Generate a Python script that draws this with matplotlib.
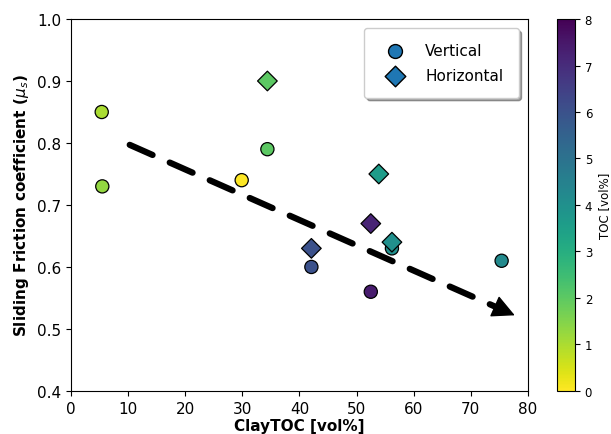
import matplotlib
matplotlib.use("Agg")
import matplotlib.pyplot as plt
import numpy as np

# Vertical samples
v_clay = [5.4, 5.5, 34.4, 29.9, 56.2, 42.1, 52.5, 75.4]
v_mu = [0.85, 0.73, 0.79, 0.74, 0.63, 0.60, 0.56, 0.61]
v_toc = [1.0, 1.3, 2.0, 0.0, 4.0, 6.0, 7.4, 4.2]

# Horizontal samples
h_clay = [34.4, 53.9, 52.5, 56.2, 42.1]
h_mu = [0.90, 0.75, 0.67, 0.64, 0.63]
h_toc = [2.0, 3.6, 7.2, 4.0, 6.0]

# Trend arrow
arrow_start = (10.3, 0.797)
arrow_end = (77.7, 0.522)

fig = plt.figure(figsize=(6.11, 4.35), dpi=100)
ax = fig.add_axes([0.116, 0.099, 0.748, 0.855])
cax = fig.add_axes([0.9116, 0.099, 0.0295, 0.855])

cmap = "viridis_r"
sc = ax.scatter(v_clay, v_mu, c=v_toc, cmap=cmap, vmin=0, vmax=8, s=90,
                marker="o", edgecolors="black", linewidths=0.9, zorder=3)
ax.scatter(h_clay, h_mu, c=h_toc, cmap=cmap, vmin=0, vmax=8, s=100,
           marker="D", edgecolors="black", linewidths=0.9, zorder=3)

# dashed shaft
t = 0.965
mid = (arrow_start[0] + t * (arrow_end[0] - arrow_start[0]),
       arrow_start[1] + t * (arrow_end[1] - arrow_start[1]))
ax.annotate("", xy=mid, xytext=arrow_start,
            arrowprops=dict(arrowstyle="-", linestyle=(0, (4, 3)), lw=4.5,
                            color="black", shrinkA=0, shrinkB=0))
# solid head
t2 = 0.95
hb = (arrow_start[0] + t2 * (arrow_end[0] - arrow_start[0]),
      arrow_start[1] + t2 * (arrow_end[1] - arrow_start[1]))
ax.annotate("", xy=arrow_end, xytext=hb,
            arrowprops=dict(arrowstyle="-|>,head_length=0.9,head_width=0.45",
                            lw=1, color="black", shrinkA=0, shrinkB=0,
                            mutation_scale=16))

# Legend handles
lv = ax.scatter([], [], marker="o", s=100, color="#1f77b4", edgecolors="black")
lh = ax.scatter([], [], marker="D", s=110, color="#1f77b4", edgecolors="black")
leg = ax.legend([lv, lh], ["Vertical", "Horizontal"], loc="upper right",
                fontsize=11, shadow=True, borderpad=1.0, handletextpad=1.0,
                labelspacing=0.6, fancybox=True, framealpha=1,
                borderaxespad=0.6)

ax.set_xlim(0, 80)
ax.set_ylim(0.4, 1.0)
ax.set_xticks(np.arange(0, 81, 10))
ax.set_yticks(np.arange(0.4, 1.01, 0.1))
ax.tick_params(labelsize=11)
ax.set_xlabel("ClayTOC [vol%]", fontsize=11, fontweight="bold", labelpad=2)
ax.set_ylabel(r"Sliding Friction coefficient ($\mu_s$)", fontsize=11,
              fontweight="bold")

cb = fig.colorbar(sc, cax=cax)
cb.set_label("TOC [vol%]", fontsize=8.5)
cb.ax.tick_params(labelsize=8.5)
cb.set_ticks(range(0, 9))

fig.savefig("out.png", dpi=100)
